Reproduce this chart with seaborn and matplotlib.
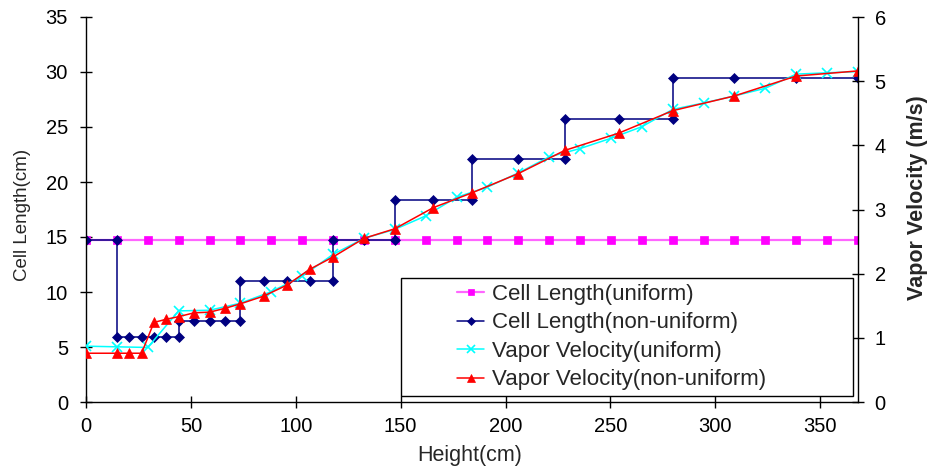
import matplotlib
matplotlib.use("Agg")
import matplotlib.pyplot as plt
import seaborn as sns
from matplotlib.lines import Line2D
from matplotlib.patches import Rectangle

# ---------------- data ----------------
height_uniform = [0, 14.72, 29.44, 44.16, 58.88, 73.60, 88.32, 103.04, 117.76, 132.48,
                  147.20, 161.92, 176.64, 191.36, 206.08, 220.80, 235.52, 250.24, 264.96,
                  279.68, 294.40, 309.12, 323.84, 338.56, 353.28, 368.00]
cell_uniform = [14.72, 14.72, 14.72, 14.72, 14.72, 14.72, 14.72, 14.72, 14.72, 14.72,
                14.72, 14.72, 14.72, 14.72, 14.72, 14.72, 14.72, 14.72, 14.72, 14.72,
                14.72, 14.72, 14.72, 14.72, 14.72, 14.72]
vel_uniform = [0.87, 0.86, 0.85, 1.42, 1.43, 1.54, 1.72, 1.96, 2.30, 2.55,
               2.69, 2.90, 3.19, 3.35, 3.57, 3.82, 3.95, 4.11, 4.29, 4.56,
               4.66, 4.77, 4.89, 5.11, 5.13, 5.15]

height_nonuniform_steps = [0, 14.72, 14.72, 20.61, 26.50, 32.38, 38.27, 44.16, 44.16, 51.52,
                           58.88, 66.24, 73.60, 73.60, 84.64, 95.68, 106.72, 117.76, 117.76,
                           132.48, 147.20, 147.20, 165.60, 184.00, 184.00, 206.08, 228.16,
                           228.16, 253.92, 279.68, 279.68, 309.12, 338.56, 368.00]
cell_nonuniform = [14.72, 14.72, 5.89, 5.89, 5.89, 5.89, 5.89, 5.89, 7.36, 7.36,
                   7.36, 7.36, 7.36, 11.04, 11.04, 11.04, 11.04, 11.04, 14.72,
                   14.72, 14.72, 18.40, 18.40, 18.40, 22.08, 22.08, 22.08,
                   25.76, 25.76, 25.76, 29.44, 29.44, 29.44, 29.44]

height_nonuniform = [0, 14.72, 20.61, 26.50, 32.38, 38.27, 44.16, 51.52, 58.88, 66.24,
                     73.60, 84.64, 95.68, 106.72, 117.76, 132.48, 147.20, 165.60, 184.00,
                     206.08, 228.16, 253.92, 279.68, 309.12, 338.56, 368.00]
vel_nonuniform = [0.76, 0.76, 0.76, 0.76, 1.24, 1.29, 1.33, 1.39, 1.40, 1.46,
                  1.53, 1.65, 1.82, 2.07, 2.26, 2.55, 2.70, 3.03, 3.26, 3.56,
                  3.92, 4.19, 4.54, 4.77, 5.08, 5.16]

series_labels = ["Cell Length(uniform)", "Cell Length(non-uniform)",
                 "Vapor Velocity(uniform)", "Vapor Velocity(non-uniform)"]
x_ticks = [0, 50, 100, 150, 200, 250, 300, 350]
y_left_ticks = [0, 5, 10, 15, 20, 25, 30, 35]
y_right_ticks = [0, 1, 2, 3, 4, 5, 6]

# ---------------- style ----------------
sns.set_style("white")
plt.rcParams["font.family"] = ["Liberation Sans", "DejaVu Sans"]

W, H = 930, 469
fig = plt.figure(figsize=(W / 100, H / 100), dpi=100)
L, R, T, B = 86, 858, 17, 402
ax = fig.add_axes([L / W, (H - B) / H, (R - L) / W, (B - T) / H])
ax2 = ax.twinx()

MAG = "#ff00ff"
NAVY = "#000080"
CYAN = "#00ffff"
RED = "#ff0000"

sty = {
    0: dict(color="#ff66ff", marker="s", markersize=6, markerfacecolor=MAG,
            markeredgecolor=MAG, markeredgewidth=0.5, linewidth=1.6),
    1: dict(color=NAVY, marker="D", markersize=4.8, markerfacecolor=NAVY,
            markeredgecolor=NAVY, markeredgewidth=0.5, linewidth=1.1),
    2: dict(color=CYAN, marker="x", markersize=6.5, markeredgecolor=CYAN,
            markeredgewidth=1.2, linewidth=1.1),
    3: dict(color=RED, marker="^", markersize=7.5, markerfacecolor=RED,
            markeredgecolor=RED, markeredgewidth=0.5, linewidth=1.1),
}

sns.lineplot(x=height_uniform, y=cell_uniform, ax=ax, sort=False, estimator=None, **sty[0])
sns.lineplot(x=height_nonuniform_steps, y=cell_nonuniform, ax=ax, sort=False,
             estimator=None, **sty[1])
sns.lineplot(x=height_uniform, y=vel_uniform, ax=ax2, sort=False, estimator=None, **sty[2])
sns.lineplot(x=height_nonuniform, y=vel_nonuniform, ax=ax2, sort=False, estimator=None,
             **sty[3])

# ---------------- axes ----------------
ax.set_xlim(0, 368)
ax.set_ylim(0, 35)
ax2.set_ylim(0, 6)
ax.set_xticks(x_ticks)
ax.set_yticks(y_left_ticks)
ax2.set_yticks(y_right_ticks)

for a in (ax, ax2):
    for s in a.spines.values():
        s.set_visible(False)
ax.spines["left"].set_visible(True)
ax.spines["bottom"].set_visible(True)
ax2.spines["right"].set_visible(True)
for s in ("left", "bottom"):
    ax.spines[s].set_color("black")
    ax.spines[s].set_linewidth(1.0)
ax2.spines["right"].set_color("black")
ax2.spines["right"].set_linewidth(1.0)

ax.tick_params(axis="x", direction="inout", length=8, width=1, pad=7, labelsize=14.5,
               colors="black", bottom=True)
ax.tick_params(axis="y", direction="inout", length=8, width=1, pad=9, labelsize=14.5,
               colors="black", left=True)
ax2.tick_params(axis="y", direction="inout", length=8, width=1, pad=8, labelsize=14.5,
                colors="black", right=True)

ax.set_xlabel("Height(cm)", fontsize=15.5)
ax.set_ylabel("Cell Length(cm)", fontsize=13.5)
ax2.set_ylabel("Vapor Velocity (m/s)", fontsize=15.5, fontweight="bold")
ax.xaxis.set_label_coords(0.497, -0.112)
ax.yaxis.set_label_coords(-0.071, 0.487)
ax2.yaxis.set_label_coords(1.0635, 0.53)

# ---------------- legend ----------------
ax2.add_patch(Rectangle((0.4076, 0.016), 0.5859, 0.305, transform=ax2.transAxes,
                        facecolor="white", edgecolor="black", linewidth=1.0,
                        zorder=4.5, clip_on=False))
handles = [Line2D([], [], **sty[i]) for i in range(4)]
leg = ax2.legend(handles, series_labels, loc="upper left", bbox_to_anchor=(0.4806, 0.307),
                 frameon=False, fontsize=16, handlelength=1.22, handletextpad=0.35,
                 labelspacing=0.34, borderpad=0, borderaxespad=0, markerscale=0.8)
leg.set_zorder(5)

fig.savefig("out.png", dpi=100)
